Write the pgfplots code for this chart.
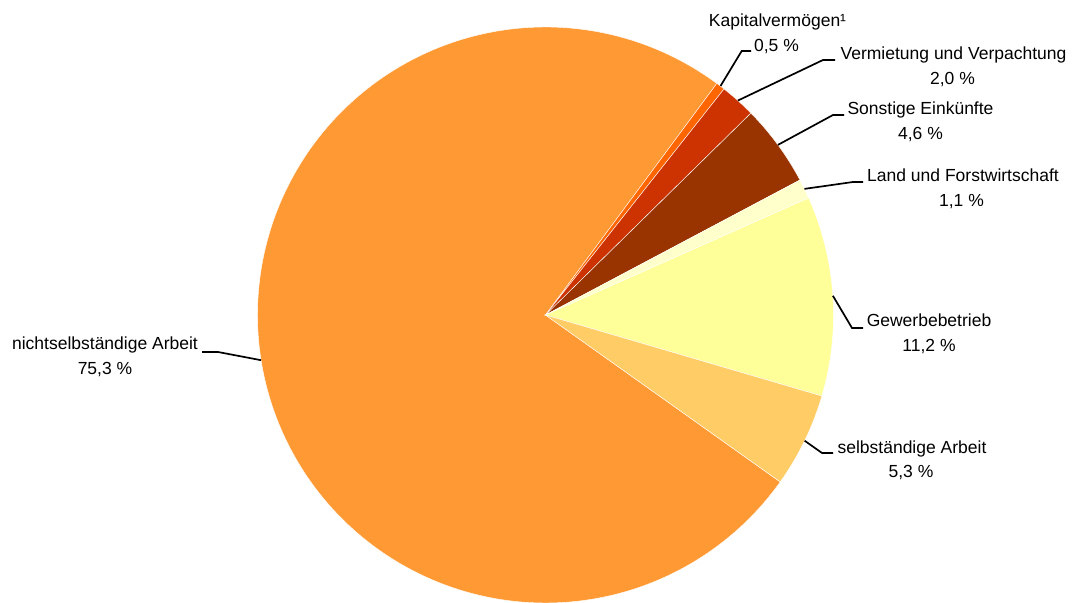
\documentclass[border=0pt]{standalone}
\usepackage{pgfplots}
\pgfplotsset{compat=1.18}
\usepackage{fontspec}
\setmainfont{Liberation Sans}
\definecolor{cN}{HTML}{FF9933}
\definecolor{cK}{HTML}{FF6600}
\definecolor{cV}{HTML}{CC3300}
\definecolor{cS}{HTML}{993300}
\definecolor{cL}{HTML}{FFFFCC}
\definecolor{cG}{HTML}{FFFF99}
\definecolor{cSA}{HTML}{FFCC66}
% Shares (%): Kapitalvermoegen 0.5, Vermietung 2.0, Sonstige 4.6, Land 1.1,
% Gewerbe 11.2, selbst. Arbeit 5.3, nichtselbst. Arbeit 75.3
% pie starts at 53.5 deg, runs clockwise, 3.6 deg per percent
\begin{document}
\begin{tikzpicture}
\begin{axis}[
  scale only axis, width=1072bp, height=603bp,
  xmin=0, xmax=1072, ymin=0, ymax=603,
  hide axis, clip=true,
  every axis plot/.append style={no marks},
]
% slices (center 545.5,288 ; radius 288)
\addplot[fill=cN, draw=white, line width=0.4bp, domain=-306.5:-35.42, samples=200, variable=\t]
  ({545.5+288*cos(t)},{288+288*sin(t)}) -- (axis cs:545.5,288) -- cycle;
\addplot[fill=cK, draw=white, line width=0.4bp, domain=51.7:53.5, samples=5, variable=\t]
  ({545.5+288*cos(t)},{288+288*sin(t)}) -- (axis cs:545.5,288) -- cycle;
\addplot[fill=cV, draw=white, line width=0.4bp, domain=44.5:51.7, samples=10, variable=\t]
  ({545.5+288*cos(t)},{288+288*sin(t)}) -- (axis cs:545.5,288) -- cycle;
\addplot[fill=cS, draw=white, line width=0.4bp, domain=27.94:44.5, samples=20, variable=\t]
  ({545.5+288*cos(t)},{288+288*sin(t)}) -- (axis cs:545.5,288) -- cycle;
\addplot[fill=cL, draw=white, line width=0.4bp, domain=23.98:27.94, samples=6, variable=\t]
  ({545.5+288*cos(t)},{288+288*sin(t)}) -- (axis cs:545.5,288) -- cycle;
\addplot[fill=cG, draw=white, line width=0.4bp, domain=-16.34:23.98, samples=40, variable=\t]
  ({545.5+288*cos(t)},{288+288*sin(t)}) -- (axis cs:545.5,288) -- cycle;
\addplot[fill=cSA, draw=white, line width=0.4bp, domain=-35.42:-16.34, samples=20, variable=\t]
  ({545.5+288*cos(t)},{288+288*sin(t)}) -- (axis cs:545.5,288) -- cycle;
% leader lines
\addplot[black, line width=1.7bp] coordinates {(720.5,517) (741.7,552) (751,552)};
\addplot[black, line width=1.7bp] coordinates {(737.8,502.4) (823,543) (835,543)};
\addplot[black, line width=1.7bp] coordinates {(777.9,458.1) (833,488) (844,488)};
\addplot[black, line width=1.7bp] coordinates {(804.4,414.1) (853,421) (863,421)};
\addplot[black, line width=1.7bp] coordinates {(832.9,307.2) (852,275) (863,275)};
\addplot[black, line width=1.7bp] coordinates {(804.6,162.3) (822,150) (833,150)};
\addplot[black, line width=1.7bp] coordinates {(261.1,242.8) (218,251) (202,251)};
% labels
\tikzset{lab/.style={anchor=base, inner sep=0pt, font=\fontsize{17.5bp}{25bp}\selectfont}}
\node[lab] at (axis cs:777.5,576.5) {Kapitalvermögen¹};
\node[lab] at (axis cs:776.5,551.5) {0,5 \%};
\node[lab] at (axis cs:953.5,543.5) {Vermietung und Verpachtung};
\node[lab] at (axis cs:952.5,518) {2,0 \%};
\node[lab] at (axis cs:920.5,488.5) {Sonstige Einkünfte};
\node[lab] at (axis cs:920.5,463) {4,6 \%};
\node[lab] at (axis cs:963,421.5) {Land und Forstwirtschaft};
\node[lab] at (axis cs:961.5,396) {1,1 \%};
\node[lab] at (axis cs:929,276) {Gewerbebetrieb};
\node[lab] at (axis cs:929,251) {11,2 \%};
\node[lab] at (axis cs:912,149.5) {selbständige Arbeit};
\node[lab] at (axis cs:911,125.5) {5,3 \%};
\node[lab] at (axis cs:105,253.7) {nichtselbständige Arbeit};
\node[lab] at (axis cs:105,228.7) {75,3 \%};
\end{axis}
\pgfresetboundingbox
\path (current axis.south west) rectangle (current axis.north east);
\end{tikzpicture}
\end{document}
